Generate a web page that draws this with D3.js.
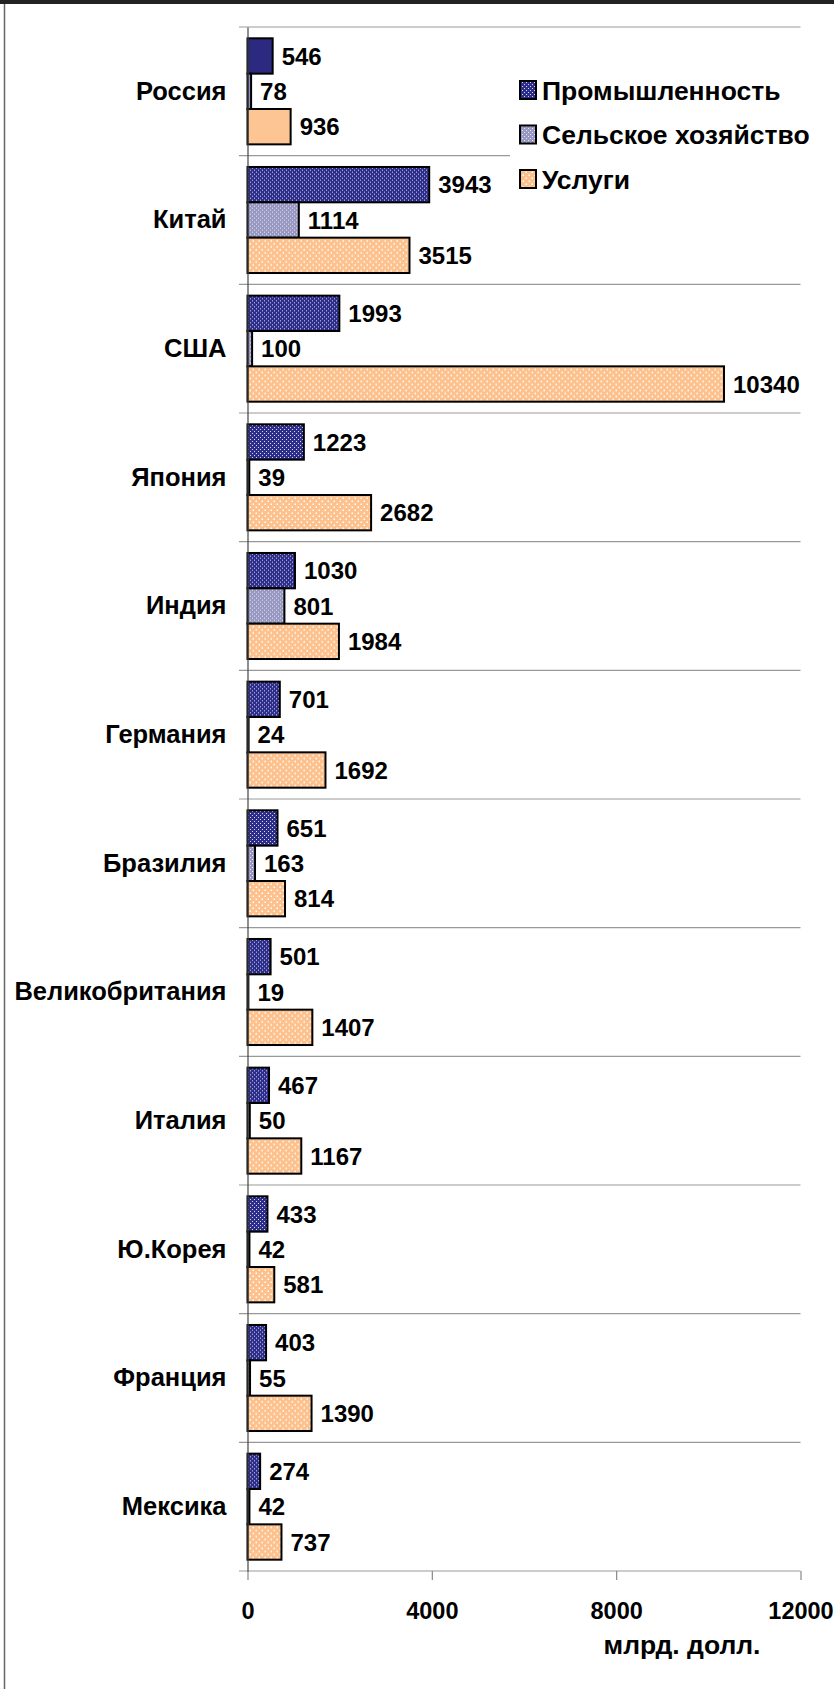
<!DOCTYPE html>
<html>
<head>
<meta charset="utf-8">
<script src="https://cdn.jsdelivr.net/npm/d3@7"></script>
<style>
  body { margin: 0; background: #fff; }
  text { font-family: "Liberation Sans", Arial, sans-serif; font-weight: bold; fill: #000; }
</style>
</head>
<body>
<div id="chart"></div>
<script>
// Datos
const countries = ["Россия", "Китай", "США", "Япония", "Индия", "Германия", "Бразилия",
  "Великобритания", "Италия", "Ю.Корея", "Франция", "Мексика"];
const sectors = ["Промышленность", "Сельское хозяйство", "Услуги"];
const industry = [546, 3943, 1993, 1223, 1030, 701, 651, 501, 467, 433, 403, 274];
const agriculture = [78, 1114, 100, 39, 801, 24, 163, 19, 50, 42, 55, 42];
const services = [936, 3515, 10340, 2682, 1984, 1692, 814, 1407, 1167, 581, 1390, 737];
const xTicks = [0, 4000, 8000, 12000];
const solidCountries = ["Россия"]; // sin trama en el original
const unitLabel = "млрд. долл.";

const width = 834;
const height = 1689;
const margin = { top: 27, right: 33.5, bottom: 118, left: 247.5 };

const series = [industry, agriculture, services];
const data = countries.map((c, i) => ({
  country: c,
  values: sectors.map((s, j) => ({ sector: s, value: series[j][i], solid: solidCountries.includes(c) })),
}));

const svg = d3.select("div#chart").append("svg")
  .attr("width", width).attr("height", height);

// Tramas
const defs = svg.append("defs");
const dotPattern = (id, size, bg, dot, dots, r) => {
  const p = defs.append("pattern").attr("id", id).attr("patternUnits", "userSpaceOnUse")
    .attr("width", size).attr("height", size);
  p.append("rect").attr("width", size).attr("height", size).attr("fill", bg);
  dots.forEach(([dx, dy]) => p.append("rect").attr("x", dx).attr("y", dy)
    .attr("width", r).attr("height", r).attr("fill", dot));
};
dotPattern("p0", 4, "#2d2d8a", "#d6d6f2", [[0, 0], [2, 2]], 1);
dotPattern("p1", 4, "#9696c8", "#f0f0c0", [[0, 0], [2, 2]], 1);
dotPattern("p2", 6, "#fcc18d", "#ffffff", [[0.5, 0.5], [3.5, 3.5]], 1.5);
const solidColors = ["#2b2a80", "#8e8ec6", "#fdc594"];

// Marco
svg.append("rect").attr("width", width).attr("height", height).attr("fill", "#fff");
svg.append("rect").attr("x", 0).attr("y", 0).attr("width", width).attr("height", 4).attr("fill", "#222");
svg.append("line").attr("x1", 4.5).attr("x2", 4.5).attr("y1", 4).attr("y2", height)
  .attr("stroke", "#666").attr("stroke-width", 1.5);

// Escalas
const x = d3.scaleLinear().domain([0, 12000]).range([margin.left, width - margin.right]);
const y = d3.scaleBand().domain(countries).range([margin.top, height - margin.bottom]).padding(0);
const ySub = d3.scaleBand().domain(sectors).range([0, y.bandwidth()]).paddingInner(0).paddingOuter(0.32);

// Líneas de división entre categorías
const boundaries = countries.map((c) => y(c)).concat([y.range()[1]]);
svg.append("g").selectAll("line").data(boundaries).join("line")
  .attr("x1", 239).attr("x2", x(12000))
  .attr("y1", (d) => d).attr("y2", (d) => d)
  .attr("stroke", "#999").attr("stroke-width", 1.2);

// Eje X
const xAxisGroup = svg.append("g").attr("transform", `translate(0, ${y.range()[1]})`)
  .call(d3.axisBottom(x).tickValues(xTicks).tickSize(9).tickSizeOuter(0).tickPadding(22).tickFormat(d3.format("d")));
xAxisGroup.select(".domain").remove();
xAxisGroup.selectAll(".tick line").attr("stroke", "#888").attr("stroke-width", 1.2);
xAxisGroup.selectAll(".tick text").attr("font-size", 23.5).attr("font-family", null).attr("fill", "#000");

svg.append("text").attr("x", 682).attr("y", 1654).attr("text-anchor", "middle")
  .attr("font-size", 26.5).text(unitLabel);

// Barras
const groups = svg.append("g").selectAll("g").data(data).join("g")
  .attr("transform", (d) => `translate(0, ${y(d.country)})`);
groups.selectAll("rect").data((d) => d.values).join("rect")
  .attr("x", x(0))
  .attr("y", (d) => ySub(d.sector))
  .attr("width", (d) => x(d.value) - x(0))
  .attr("height", ySub.bandwidth())
  .attr("fill", (d, j) => (d.solid ? solidColors[j] : `url(#p${j})`))
  .attr("stroke", "#000").attr("stroke-width", 2);
groups.selectAll("text").data((d) => d.values).join("text")
  .attr("x", (d) => x(d.value) + 9)
  .attr("y", (d) => ySub(d.sector) + ySub.bandwidth() / 2)
  .attr("dy", "0.36em")
  .attr("font-size", 24)
  .text((d) => d.value);

// Eje Y
const yAxisGroup = svg.append("g").attr("transform", `translate(${x(0)}, 0)`)
  .call(d3.axisLeft(y).tickSize(0).tickPadding(21));
yAxisGroup.select(".domain").attr("stroke", "#444").attr("stroke-width", 1.2);
yAxisGroup.selectAll(".tick text").attr("font-size", 25.5).attr("font-family", null).attr("fill", "#000");

// Leyenda
const legend = svg.append("g");
legend.append("rect").attr("x", 510).attr("y", 62).attr("width", width - 510).attr("height", 140).attr("fill", "#fff");
sectors.forEach((s, j) => {
  const cy = 90 + j * 44.5;
  legend.append("rect").attr("x", 520).attr("y", cy - 9).attr("width", 16).attr("height", 18)
    .attr("fill", `url(#p${j})`).attr("stroke", "#000").attr("stroke-width", 2);
  legend.append("text").attr("x", 542).attr("y", cy).attr("dy", "0.36em")
    .attr("font-size", 26.5).text(s);
});
</script>
</body>
</html>
